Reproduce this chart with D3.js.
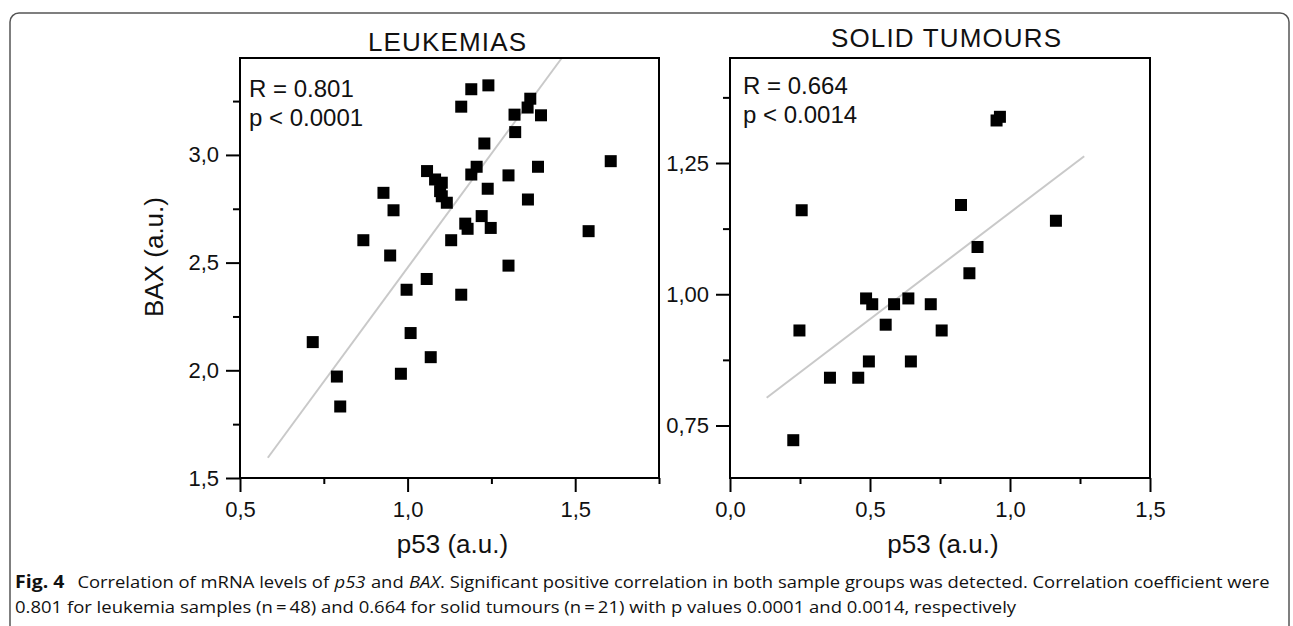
<!DOCTYPE html>
<html lang="en">
<head>
<meta charset="utf-8">
<title>p53 vs BAX correlation</title>
<script src="https://d3js.org/d3.v7.min.js"></script>
<style>
    body { margin: 0; background: #fff; }
    svg text { font-family: Arial, "Liberation Sans", Arimo, sans-serif; fill: #111; }
</style>
</head>
<body>
<svg id="chart" width="1293" height="626"></svg>
<script>
// leukemia samples (p53 vs BAX, a.u.)
const leukP53 = [1.241, 1.190, 1.160, 1.366, 1.358, 1.319, 1.398, 1.321, 1.229, 1.389, 1.606,
                 1.058, 1.206, 1.190, 1.301, 1.082, 1.102, 1.097, 1.102, 1.117, 1.239, 0.928,
                 0.958, 1.359, 1.221, 1.172, 1.179, 1.248, 1.540, 0.868, 1.130, 0.948, 1.301,
                 1.057, 0.997, 1.160, 1.009, 0.717, 1.069, 0.789, 0.980, 0.799];
const leukBax = [3.323, 3.305, 3.224, 3.261, 3.220, 3.187, 3.184, 3.106, 3.053, 2.945, 2.971,
                 2.925, 2.945, 2.909, 2.905, 2.886, 2.871, 2.832, 2.808, 2.778, 2.843, 2.824,
                 2.743, 2.793, 2.716, 2.681, 2.657, 2.661, 2.646, 2.604, 2.604, 2.533, 2.486,
                 2.424, 2.374, 2.351, 2.173, 2.131, 2.061, 1.971, 1.984, 1.832];
// solid tumour samples
const solidP53 = [0.964, 0.952, 0.256, 0.825, 1.164, 0.884, 0.855, 0.486, 0.508, 0.586,
                  0.637, 0.717, 0.556, 0.756, 0.496, 0.646, 0.458, 0.248, 0.357, 0.226];
const solidBax = [1.338, 1.331, 1.160, 1.170, 1.140, 1.090, 1.040, 0.992, 0.981, 0.981,
                  0.992, 0.981, 0.942, 0.931, 0.872, 0.872, 0.841, 0.931, 0.841, 0.722];

// regression lines (end points, data units)
const leukFitX = [0.583, 1.46];
const leukFitY = [1.594, 3.45];
const solidFitX = [0.131, 1.265];
const solidFitY = [0.803, 1.263];

// ticks
const leukXMajor = [0.5, 1.0, 1.5];
const leukXMinor = [0.75, 1.25, 1.75];
const leukYMajor = [1.5, 2.0, 2.5, 3.0];
const leukYMinor = [1.75, 2.25, 2.75, 3.25];
const solidXMajor = [0.0, 0.5, 1.0, 1.5];
const solidXMinor = [0.25, 0.75, 1.25];
const solidYMajor = [0.75, 1.00, 1.25];
const solidYMinor = [0.875, 1.125, 1.375];

const titles = ['LEUKEMIAS', 'SOLID TUMOURS'];
const statsText = [['R = 0.801', 'p < 0.0001'], ['R = 0.664', 'p < 0.0014']];

// caption pieces: [text, style]
const captionLine1 = [
    ['Fig. 4', 'bold'],
    ['Correlation of mRNA levels of', ''],
    ['p53', 'italic'],
    ['and', ''],
    ['BAX', 'italic'],
    ['. Significant positive correlation in both sample groups was detected. Correlation coefficient were', '']
];
const captionLine2 = '0.801 for leukemia samples (n\u2009=\u200948) and 0.664 for solid tumours (n\u2009=\u200921) with p values 0.0001 and 0.0014, respectively';

const FONT = 'Arial, "Liberation Sans", Arimo, sans-serif';
const CAPFONT = '"Open Sans", "Noto Sans", sans-serif';

// comma as decimal mark
const locale = d3.formatLocale({decimal: ',', thousands: '.', grouping: [3], currency: ['', '']});

const svg = d3.select('#chart');

// outer frame of the figure
svg.append('rect')
    .attr('x', 10).attr('y', 13)
    .attr('width', 1279).attr('height', 640)
    .attr('rx', 9)
    .attr('fill', 'none')
    .attr('stroke', '#555')
    .attr('stroke-width', 1.5);

function drawPanel(cfg) {
    const x = d3.scaleLinear().domain(cfg.xDomain).range([cfg.left, cfg.right]);
    const y = d3.scaleLinear().domain(cfg.yDomain).range([478, 58]);
    const g = svg.append('g');

    // regression line
    g.append('line')
        .attr('x1', x(cfg.fitX[0])).attr('y1', y(cfg.fitY[0]))
        .attr('x2', x(cfg.fitX[1])).attr('y2', y(cfg.fitY[1]))
        .attr('stroke', '#c9c9c9')
        .attr('stroke-width', 2);

    // points
    g.selectAll('rect.pt')
        .data(cfg.px.map((v, i) => [v, cfg.py[i]]))
        .join('rect')
        .attr('class', 'pt')
        .attr('x', d => x(d[0]) - 6)
        .attr('y', d => y(d[1]) - 6)
        .attr('width', 12).attr('height', 12)
        .attr('fill', '#000');

    // axes
    const styleAxis = sel => {
        sel.select('.domain').remove();
        sel.selectAll('line').attr('stroke', '#000').attr('stroke-width', 2);
        sel.selectAll('text').attr('font-family', FONT)
            .attr('font-size', 22).attr('fill', '#111');
    };
    g.append('g').attr('transform', 'translate(0,478)')
        .call(d3.axisBottom(x).tickValues(cfg.xMajor).tickSize(14).tickPadding(9)
            .tickFormat(locale.format(cfg.xFmt)))
        .call(styleAxis);
    g.append('g').attr('transform', 'translate(0,478)')
        .call(d3.axisBottom(x).tickValues(cfg.xMinor).tickSize(6).tickFormat(''))
        .call(styleAxis);
    g.append('g').attr('transform', `translate(${cfg.left},0)`)
        .call(d3.axisLeft(y).tickValues(cfg.yMajor).tickSize(14).tickPadding(7)
            .tickFormat(locale.format(cfg.yFmt)))
        .call(styleAxis);
    g.append('g').attr('transform', `translate(${cfg.left},0)`)
        .call(d3.axisLeft(y).tickValues(cfg.yMinor).tickSize(7).tickFormat(''))
        .call(styleAxis);

    // box
    g.append('rect')
        .attr('x', cfg.left).attr('y', 58)
        .attr('width', cfg.right - cfg.left).attr('height', 420)
        .attr('fill', 'none')
        .attr('stroke', '#000')
        .attr('stroke-width', 2);

    // title
    g.append('text')
        .attr('x', cfg.titleX).attr('y', cfg.titleY)
        .attr('text-anchor', 'middle')
        .attr('font-size', 26)
        .attr('textLength', cfg.titleLen)
        .attr('lengthAdjust', 'spacing')
        .text(cfg.title);

    // R and p
    g.selectAll('text.stat')
        .data(cfg.stats)
        .join('text')
        .attr('class', 'stat')
        .attr('x', cfg.left + cfg.statDx)
        .attr('y', (d, i) => cfg.statY + i * 29)
        .attr('font-size', 24)
        .text(d => d);

    // x label
    g.append('text')
        .attr('x', (cfg.left + cfg.right) / 2 + 3).attr('y', 553)
        .attr('text-anchor', 'middle')
        .attr('font-size', 26)
        .text('p53 (a.u.)');
}

drawPanel({
    left: 240, right: 659, xDomain: [0.5, 1.75], yDomain: [1.5, 3.45],
    px: leukP53, py: leukBax, fitX: leukFitX, fitY: leukFitY,
    xMajor: leukXMajor, xMinor: leukXMinor, yMajor: leukYMajor, yMinor: leukYMinor,
    xFmt: '.1f', yFmt: '.1f',
    title: titles[0], titleX: 447, titleY: 51, titleLen: 158,
    stats: statsText[0], statDx: 9, statY: 97
});
drawPanel({
    left: 730, right: 1150, xDomain: [0, 1.5], yDomain: [0.65, 1.45],
    px: solidP53, py: solidBax, fitX: solidFitX, fitY: solidFitY,
    xMajor: solidXMajor, xMinor: solidXMinor, yMajor: solidYMajor, yMinor: solidYMinor,
    xFmt: '.1f', yFmt: '.2f',
    title: titles[1], titleX: 946, titleY: 47, titleLen: 230,
    stats: statsText[1], statDx: 13, statY: 94
});

// y axis label (left panel only)
svg.append('text')
    .attr('transform', 'translate(163,257) rotate(-90)')
    .attr('text-anchor', 'middle')
    .attr('font-size', 26)
    .text('BAX (a.u.)');

// caption: pieces laid out one after another, then the line is squeezed to the column width
function captionLine(yPos, width, pieces) {
    const g = svg.append('g');
    let cx = 0;
    pieces.forEach(([txt, style], i) => {
        let gap = 0;
        if (i > 0) gap = txt.startsWith('.') ? 0 : 5;
        if (i > 0 && pieces[i - 1][1] === 'bold') gap = 12;
        cx += gap;
        const t = g.append('text')
            .attr('x', cx).attr('y', 0)
            .attr('font-size', style === 'bold' ? 18 : 17)
            .attr('font-weight', style === 'bold' ? 'bold' : null)
            .attr('font-style', style === 'italic' ? 'italic' : null)
            .style('font-family', CAPFONT)
            .text(txt);
        cx += t.node().getComputedTextLength();
    });
    g.attr('transform', `translate(15,${yPos}) scale(${width / cx},1)`);
}
captionLine(588, 1255, captionLine1);
captionLine(613, 1002, [[captionLine2, '']]);
</script>
</body>
</html>
